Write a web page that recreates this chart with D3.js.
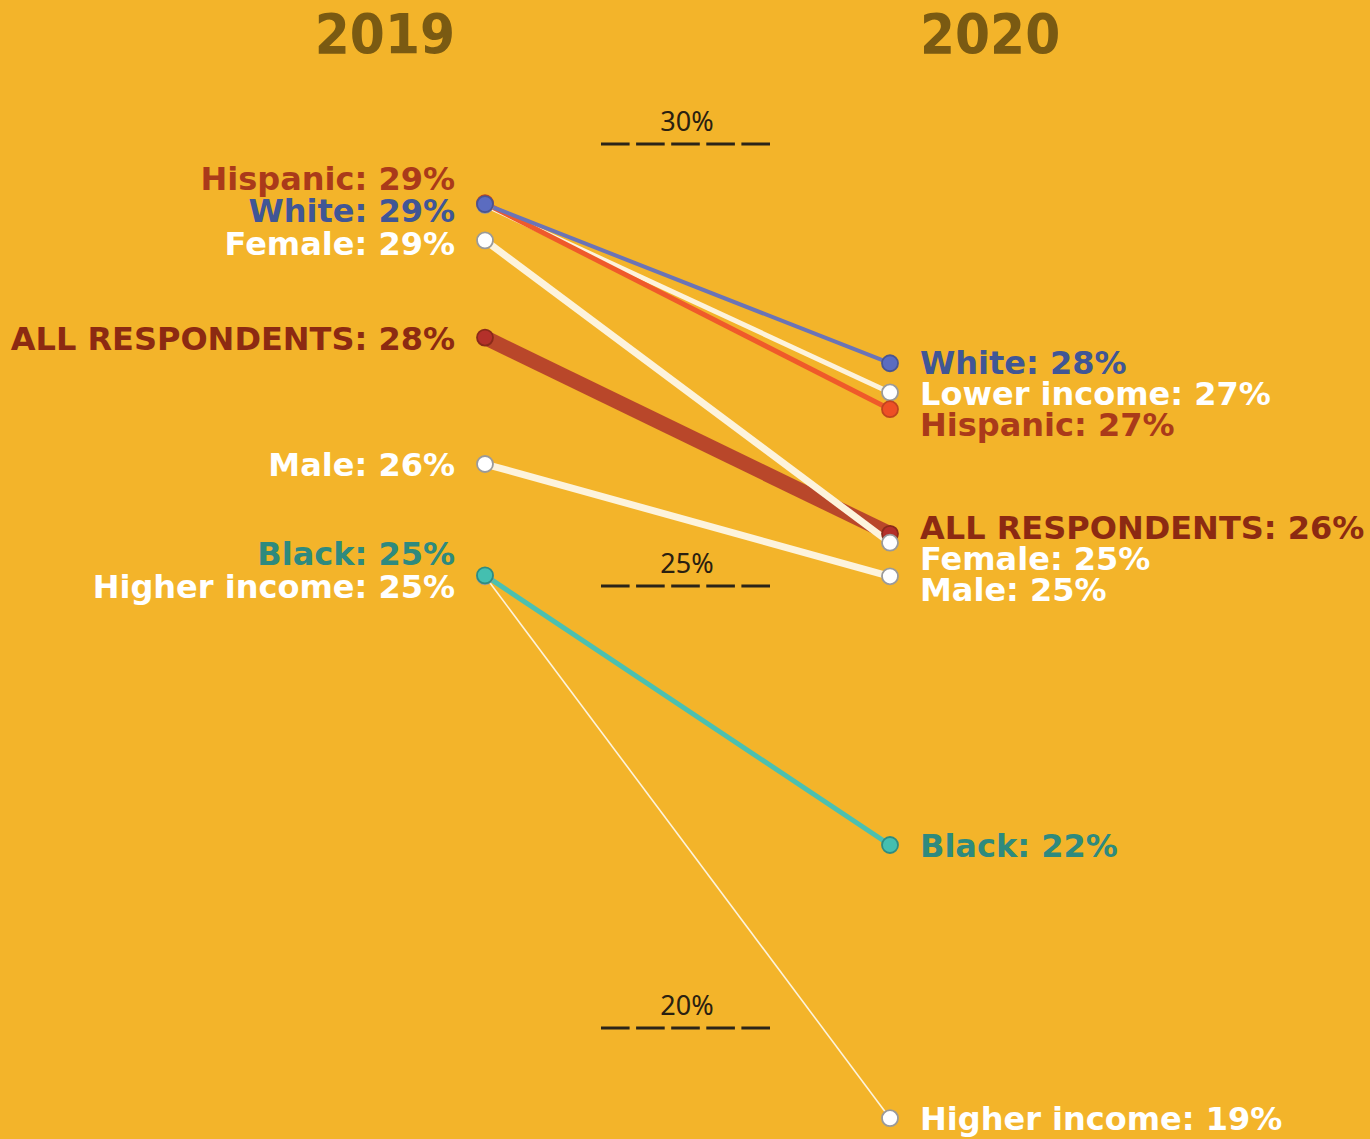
<!DOCTYPE html>
<html>
<head>
<meta charset="utf-8">
<script src="https://cdn.jsdelivr.net/npm/d3@7"></script>
<style>
  html, body { margin: 0; padding: 0; background: #f3b42a; }
  svg { display: block; }
</style>
</head>
<body>
<svg id="chart" width="1370" height="1139"></svg>
<script>
// Share of respondents, by group, in each survey year
const years = ["2019", "2020"];
const groups = ["Higher income", "Black", "Male", "ALL RESPONDENTS", "Female", "Lower income", "Hispanic", "White"];
const values2019 = [25.11, 25.12, 26.38, 27.81, 28.91, 29.31, 29.33, 29.32];
const values2020 = [18.98, 22.07, 25.11, 25.59, 25.49, 27.19, 27.0, 27.52];
const gridTicks = [20, 25, 30];
// groups whose 2019 label is left off (it sits under another label)
const unlabeled2019 = ["Lower income"];

// Visual style for each group
const style = {
  "Higher income":   { line: "#fdf3dc", width: 1.6, dot: "#ffffff", dotStroke: "#9a9a9a", text: "#ffffff" },
  "Black":           { line: "#4cc0b0", width: 5,   dot: "#44bfb0", dotStroke: "#2f8c80", text: "#2e8a7e" },
  "Male":            { line: "#fdf3dc", width: 7,   dot: "#ffffff", dotStroke: "#9a9a9a", text: "#ffffff" },
  "ALL RESPONDENTS": { line: "#b0382a", width: 15,  dot: "#b3302a", dotStroke: "#8a2a1a", text: "#8c2a12", opacity: 0.88 },
  "Female":          { line: "#fdf3dc", width: 7,   dot: "#ffffff", dotStroke: "#9a9a9a", text: "#ffffff" },
  "Lower income":    { line: "#fdf3dc", width: 5,   dot: "#ffffff", dotStroke: "#9a9a9a", text: "#ffffff" },
  "Hispanic":        { line: "#ef5a2a", width: 5,   dot: "#ee4f25", dotStroke: "#c0441e", text: "#aa3a1a" },
  "White":           { line: "#6b74b6", width: 4,   dot: "#5b6cc0", dotStroke: "#4a5590", text: "#405696" }
};

const svg = d3.select("#chart");
const x = d3.scalePoint().domain(years).range([485, 890]);
const y = d3.scaleLinear().domain([20, 30]).range([1028, 144]);
const fmt = v => `${Math.round(v)}%`;

const rows = groups.map((g, i) => ({ group: g, v: [values2019[i], values2020[i]] }));

// Year headers
const head = svg.append("g")
  .attr("font-family", "'DejaVu Sans Condensed', 'DejaVu Sans', sans-serif")
  .attr("font-stretch", "condensed")
  .attr("font-weight", 700).attr("font-size", 56).attr("fill", "#7a5a12");
head.append("text").attr("x", 455).attr("y", 53).attr("text-anchor", "end").text(years[0]);
head.append("text").attr("x", 920).attr("y", 53).attr("text-anchor", "start").text(years[1]);

// Dashed reference marks with their values
const grid = svg.append("g");
gridTicks.forEach(t => {
  grid.append("line").attr("x1", 601).attr("x2", 770).attr("y1", y(t)).attr("y2", y(t))
    .attr("stroke", "#2b2418").attr("stroke-width", 3).attr("stroke-dasharray", "28.6,6.5");
  grid.append("text").attr("x", 687).attr("y", y(t) - 13).attr("text-anchor", "middle")
    .attr("font-family", "'Noto Sans', sans-serif").attr("font-size", 27)
    .attr("fill", "#2a2010").text(`${t}%`);
});

// Slope lines
svg.append("g").selectAll("line").data(rows).join("line")
  .attr("x1", x(years[0])).attr("x2", x(years[1]))
  .attr("y1", d => y(d.v[0])).attr("y2", d => y(d.v[1]))
  .attr("stroke", d => style[d.group].line)
  .attr("stroke-width", d => style[d.group].width)
  .attr("stroke-opacity", d => style[d.group].opacity || 1);

// End dots (drawn after all lines)
const dotLayer = svg.append("g");
[0, 1].forEach(k => {
  dotLayer.selectAll(null).data(rows).join("circle")
    .attr("cx", x(years[k])).attr("cy", d => y(d.v[k])).attr("r", 8)
    .attr("fill", d => style[d.group].dot)
    .attr("stroke", d => style[d.group].dotStroke).attr("stroke-width", 1.8);
});

// Spread labels vertically so they don't collide; `down` is the share of
// each correction given to the lower label of a crowded pair
function dodge(items, gap, down) {
  items.sort((a, b) => a.y - b.y);
  for (let it = 0; it < 400; it++) {
    for (let i = 0; i < items.length - 1; i++) {
      const d = items[i + 1].y - items[i].y;
      if (d < gap) {
        const need = gap - d;
        items[i].y -= need * (1 - down);
        items[i + 1].y += need * down;
      }
    }
  }
  return items;
}

const labelFont = "'DejaVu Sans', sans-serif";
const labelSize = 32;
const capShift = 12;

const left = dodge(rows.filter(d => !unlabeled2019.includes(d.group))
  .map(d => ({ group: d.group, value: d.v[0], y: y(d.v[0]) })), 32.5, 0.3);
const right = dodge(rows.map(d => ({ group: d.group, value: d.v[1], y: y(d.v[1]) })), 31, 0.75);

const labels = svg.append("g")
  .attr("font-family", labelFont).attr("font-weight", 700).attr("font-size", labelSize);

labels.append("g").selectAll("text").data(left).join("text")
  .attr("x", 455).attr("y", d => d.y + capShift).attr("text-anchor", "end")
  .attr("fill", d => style[d.group].text)
  .text(d => `${d.group}: ${fmt(d.value)}`);

labels.append("g").selectAll("text").data(right).join("text")
  .attr("x", 920).attr("y", d => d.y + capShift).attr("text-anchor", "start")
  .attr("fill", d => style[d.group].text)
  .text(d => `${d.group}: ${fmt(d.value)}`);
</script>
</body>
</html>
